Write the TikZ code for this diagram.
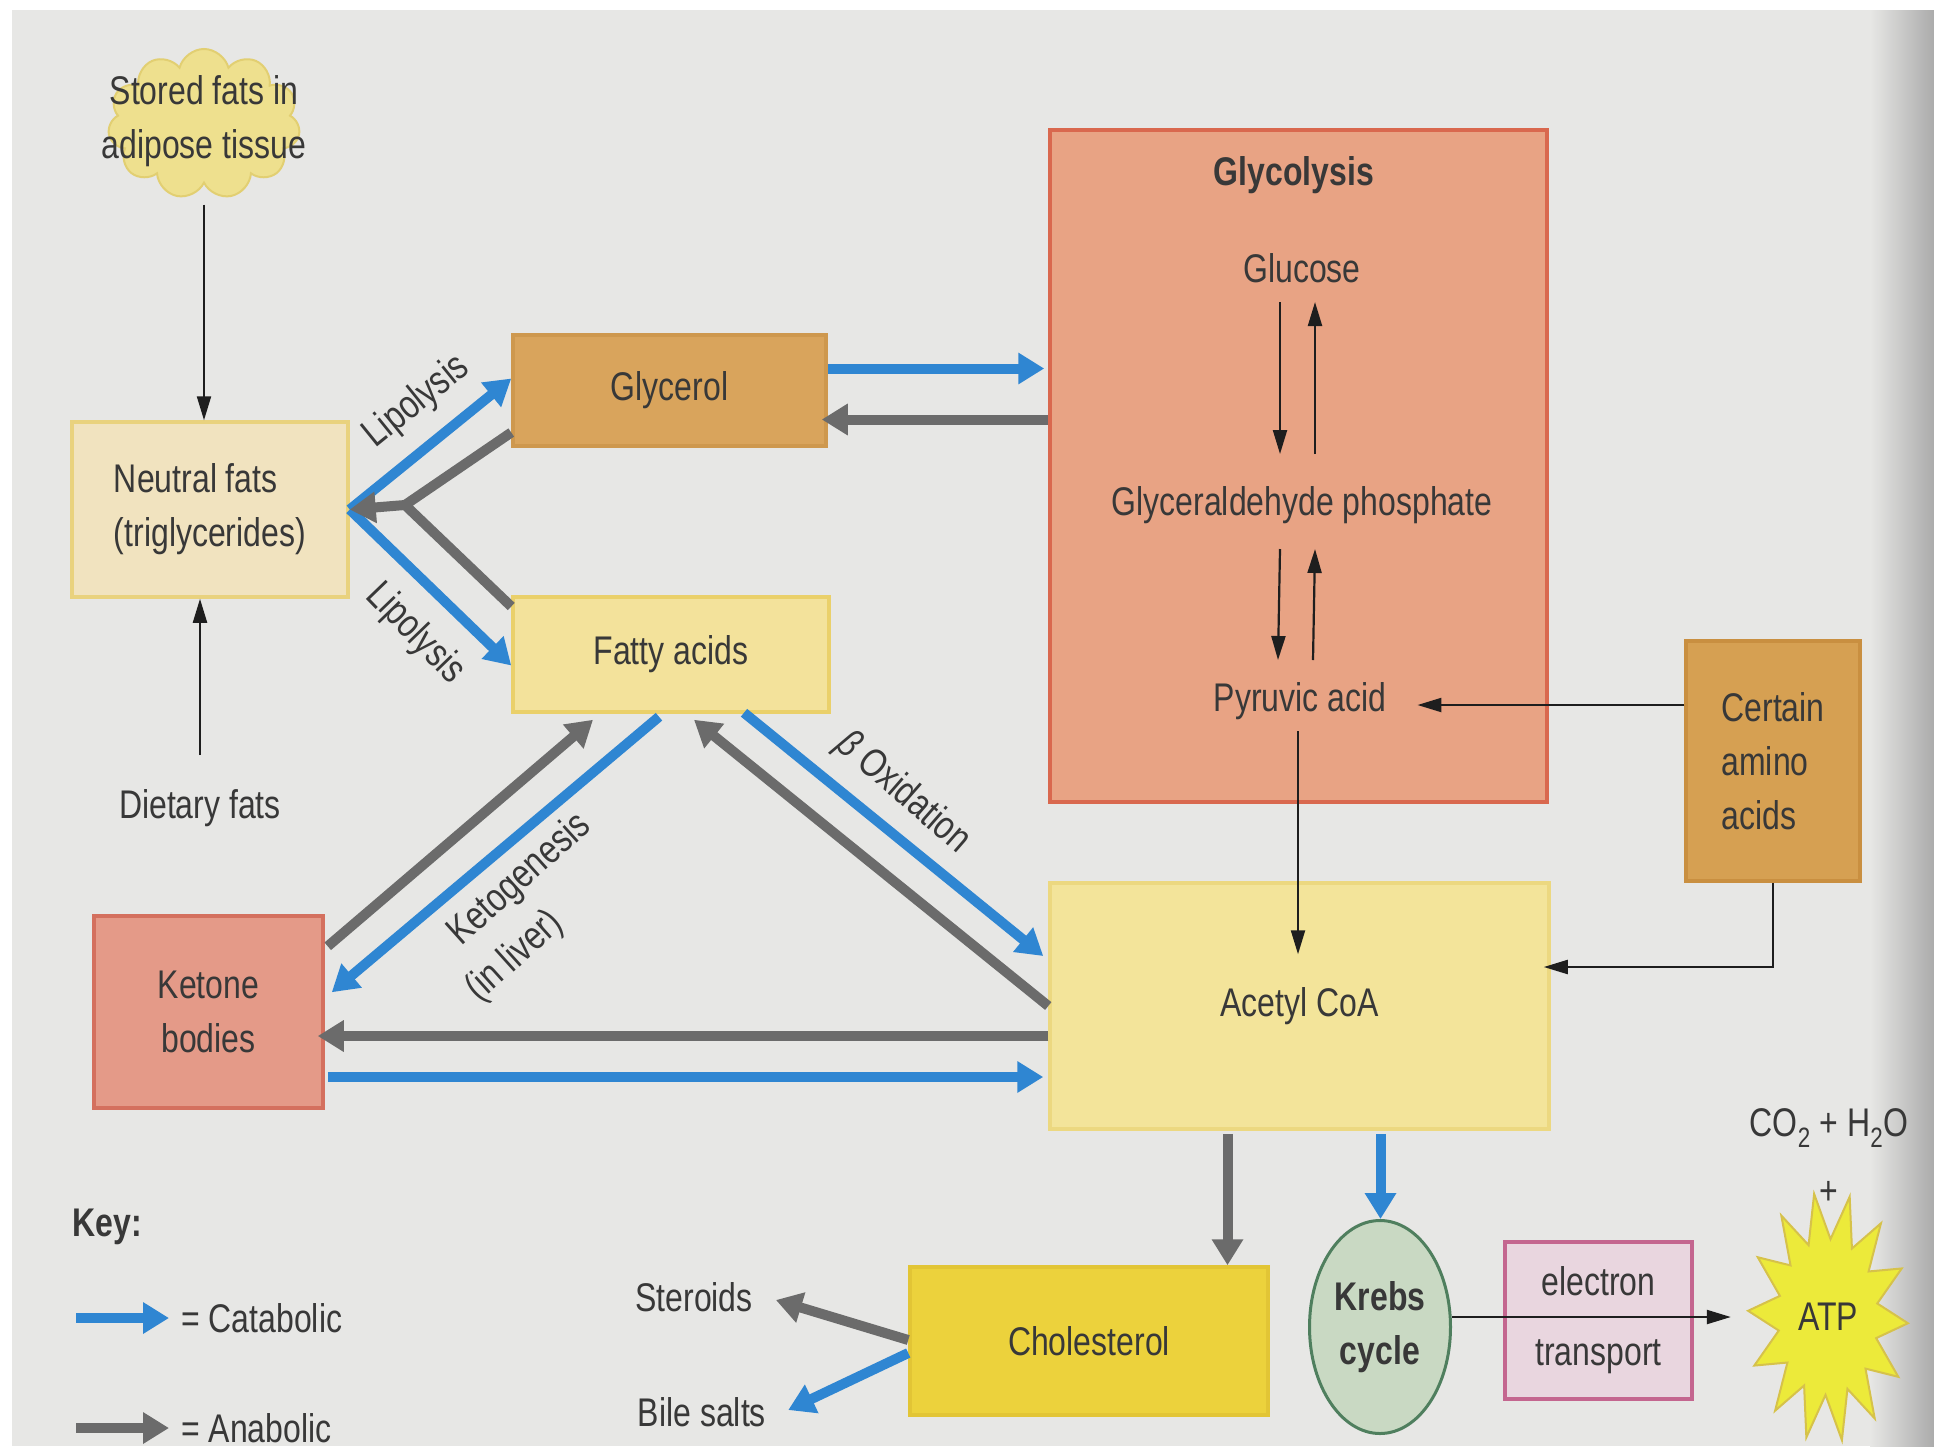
\documentclass[tikz,border=0pt]{standalone}
\usepackage{fontspec}
\setmainfont{Liberation Sans}[FakeStretch=0.8]
\usetikzlibrary{arrows.meta,calc,shapes.geometric,shapes.symbols}
\definecolor{bg}{HTML}{E7E7E5}
\definecolor{edge}{HTML}{ABABAB}
\definecolor{txt}{HTML}{383838}
\definecolor{catblue}{HTML}{2F86D2}
\definecolor{anagray}{HTML}{6B6B6B}
\definecolor{arrowblack}{HTML}{1E1E1E}
\definecolor{cloudfill}{HTML}{EEE08E}
\definecolor{cloudline}{HTML}{E2CF72}
\definecolor{neutralfill}{HTML}{F1E3BF}
\definecolor{neutralline}{HTML}{E9D27E}
\definecolor{glycfill}{HTML}{D9A45C}
\definecolor{glycline}{HTML}{CE984E}
\definecolor{fattyfill}{HTML}{F3E29B}
\definecolor{fattyline}{HTML}{EAD06A}
\definecolor{glycofill}{HTML}{E8A384}
\definecolor{glycoline}{HTML}{D9684E}
\definecolor{aminofill}{HTML}{D6A052}
\definecolor{aminoline}{HTML}{C98F40}
\definecolor{acetylfill}{HTML}{F3E49A}
\definecolor{acetylline}{HTML}{ECD880}
\definecolor{ketonefill}{HTML}{E49A88}
\definecolor{ketoneline}{HTML}{D4705E}
\definecolor{cholfill}{HTML}{ECD23C}
\definecolor{cholline}{HTML}{E2C535}
\definecolor{krebsfill}{HTML}{C9D9C3}
\definecolor{krebsline}{HTML}{4F7F5E}
\definecolor{etfill}{HTML}{E9D6DF}
\definecolor{etline}{HTML}{C4668F}
\definecolor{atpfill}{HTML}{ECEA3A}
\definecolor{atpline}{HTML}{D6C24A}
\begin{document}
\begin{tikzpicture}[x=1pt,y=-1pt,
  every node/.style={font=\fontsize{40}{54}\selectfont, text=txt},
  boldtxt/.style={font=\fontsize{40}{54}\selectfont\bfseries},
  box/.style={draw, line width=3.5pt, inner sep=0pt},
  lbl/.style={inner sep=0pt},
  catab/.style={draw=catblue, line width=10pt, -{Triangle[width=30pt,length=26pt]}},
  anab/.style={draw=anagray, line width=10pt, line join=round, -{Triangle[width=30pt,length=26pt]}},
  anabline/.style={draw=anagray, line width=10pt},
  thinarr/.style={draw=arrowblack, line width=2.2pt, -{Triangle[width=14pt,length=24pt]}}
]
\useasboundingbox (0,0) rectangle (1934,1446);
\fill[white] (0,0) rectangle (1934,1446);
\fill[bg] (12,10) rectangle (1934,1446);
\shade[left color=bg, right color=edge] (1870,10) rectangle (1934,1446);

% nodes
\node[cloud, cloud puffs=11, aspect=1.3, draw=cloudline, fill=cloudfill, line width=2pt,
      minimum width=192pt, minimum height=150pt, inner sep=0pt] (cloudshape) at (204,124) {};
\node[lbl, align=center] (stored) at (204,121) {Stored fats in\\adipose tissue};
\node[box, fill=neutralfill, draw=neutralline, minimum width=276pt, minimum height=175pt, align=left] (neutral) at (210,509.5) {Neutral fats\\(triglycerides)};
\node[box, fill=glycfill, draw=glycline, minimum width=313pt, minimum height=111pt] (glycerol) at (669.5,390.5) {Glycerol};
\node[box, fill=fattyfill, draw=fattyline, minimum width=316pt, minimum height=115pt] (fatty) at (671,654.5) {Fatty acids};
\node[box, fill=glycofill, draw=glycoline, minimum width=497pt, minimum height=672pt] (glyco) at (1298.5,466) {};
\node[lbl, boldtxt] (glytitle) at (1294,175) {Glycolysis};
\node[lbl] (glu) at (1302,268) {Glucose};
\node[lbl] (gap) at (1302,505) {Glyceraldehyde phosphate};
\node[lbl] (pyr) at (1300,701) {Pyruvic acid};
\node[box, fill=aminofill, draw=aminoline, minimum width=174pt, minimum height=240pt, align=left] (amino) at (1773,761) {Certain\\amino\\acids};
\node[box, fill=acetylfill, draw=acetylline, minimum width=499pt, minimum height=246pt] (acetyl) at (1299.5,1006) {Acetyl CoA};
\node[box, fill=ketonefill, draw=ketoneline, minimum width=229pt, minimum height=192pt, align=center] (ketone) at (208.5,1012) {Ketone\\bodies};
\node[box, fill=cholfill, draw=cholline, minimum width=358pt, minimum height=148pt] (chol) at (1089,1341) {Cholesterol};
\node[ellipse, draw=krebsline, fill=krebsfill, line width=3pt, minimum width=141pt, minimum height=213pt, inner sep=0pt, align=center, boldtxt] (krebs) at (1380,1327) {Krebs\\cycle};
\node[box, fill=etfill, draw=etline, minimum width=187pt, minimum height=157pt, align=center] (etrans) at (1598.5,1320.5) {electron\\[16pt]transport};

\coordinate (atpc) at (1828,1317);
\path[draw=atpline, fill=atpfill, line width=2pt] ($(atpc)+(80:80 and 125)$)
  \foreach \k [evaluate=\k as \a using 80+\k*360/28,
               evaluate=\k as \rx using {ifthenelse(mod(\k,2)==0,80,50)},
               evaluate=\k as \ry using {ifthenelse(mod(\k,2)==0,125,78)}] in {1,...,27}
  { -- ($(atpc)+(\a:{\rx} and {\ry})$) } -- cycle;
\node[ellipse, inner sep=0pt, minimum width=160pt, minimum height=250pt] (atp) at (atpc) {ATP};

\node[lbl] (co2) at (1829,1128) {CO\textsubscript{2} + H\textsubscript{2}O};
\node[lbl] (plus) at (1829,1193) {+};
\node[lbl] (dietary) at (200,808) {Dietary fats};
\node[lbl] (steroids) at (694,1297) {Steroids};
\node[lbl] (bile) at (702,1412) {Bile salts};
\node[lbl, boldtxt] (key) at (107,1227) {Key:};
\node[lbl, anchor=west] (cattxt) at (181,1318) {= Catabolic};
\node[lbl, anchor=west] (anatxt) at (181,1428) {= Anabolic};

% rotated labels
\node[lbl, rotate=39] (lip1) at (417,402) {Lipolysis};
\node[lbl, rotate=-46] (lip2) at (415,634) {Lipolysis};
\node[lbl, rotate=42, align=left] (keto) at (538,900) {Ketogenesis\\\hspace*{-24pt}(in liver)};
\node[lbl, rotate=-41] (beta) at (903,793) {\textit{β} Oxidation};

% thin arrows
\draw[thinarr, shorten <=20pt] (cloudshape.south) -- (cloudshape.south |- neutral.north);
\draw[thinarr, shorten <=34pt] (dietary.north) -- (dietary.north |- neutral.south);
\draw[thinarr] ($(glu)+(-22,34)$) -- ($(gap)+(-22,-51)$);
\draw[thinarr] ($(gap)+(13,-51)$) -- ($(glu)+(13,34)$);
\draw[thinarr] ($(gap)+(-22,44)$) -- ($(pyr)+(-22,-41)$);
\draw[thinarr] ($(pyr)+(13,-41)$) -- ($(gap)+(13,44)$);
\draw[thinarr] ($(pyr)+(-2,30)$) -- ($(pyr |- acetyl.north)+(-2,73)$);
\coordinate (am1) at ($(amino.west)+(0,-56)$);
\draw[thinarr, shorten >=31pt] (am1) -- (am1 -| pyr.east);
\draw[thinarr, shorten >=-7pt] (amino.south) |- ($(acetyl.east)+(0,-39)$);

% lipolysis
\draw[catab] (neutral.east) -- ($(glycerol.west)+(0,-12)$);
\draw[catab] (neutral.east) -- ($(fatty.west)+(0,11)$);
\coordinate (j) at (405,505);
\draw[anabline] ($(fatty.west)+(0,-48)$) -- (j);
\draw[anab] ($(glycerol.west)+(0,42)$) -- (j) -- (neutral.east);

% glycerol <-> glycolysis
\coordinate (gc1) at ($(glycerol.east)+(0,-22)$);
\draw[catab, shorten >=4pt] (gc1) -- (gc1 -| glyco.west);
\coordinate (gc2) at ($(glycerol.east)+(0,29)$);
\draw[anab, shorten >=-6pt] (gc2 -| glyco.west) -- (gc2);

% fatty acids / ketone / acetyl
\draw[anab] ($(ketone.north east)+(3,32)$) -- ($(fatty.south)+(-78,6)$);
\draw[catab] ($(fatty.south)+(-12,3)$) -- ($(ketone.north east)+(7,78)$);
\draw[anab] (acetyl.west) -- ($(fatty.south)+(23,6)$);
\draw[catab] ($(fatty.south)+(73,-1)$) -- ($(acetyl.west)+(-5,-50)$);
\coordinate (ak1) at ($(acetyl.west)+(0,30)$);
\draw[anab, shorten >=-7pt] (ak1) -- (ak1 -| ketone.east);
\coordinate (ak2) at ($(ketone.east)+(3,65)$);
\draw[catab, shorten >=5pt] (ak2) -- (ak2 -| acetyl.west);

% acetyl down
\coordinate (ac1) at ($(acetyl.south)+(-72,3)$);
\draw[anab] (ac1) -- (ac1 |- chol.north);
\coordinate (ac2) at ($(acetyl.south)+(81,3)$);
\draw[catab] (ac2) -- (ac2 |- krebs.north);

% cholesterol
\draw[anab] ($(chol.west)+(0,-1)$) -- ($(steroids.east)+(23,3)$);
\draw[catab] ($(chol.west)+(0,12)$) -- ($(bile.east)+(22,-2)$);

% krebs -> ATP
\draw[thinarr, shorten >=17pt] (krebs.east |- atp.west) -- (atp.west);

% key
\coordinate (kc1) at (76,1318);
\coordinate (kc2) at (169,1318);
\draw[catab] (kc1) -- (kc2);
\coordinate (ka1) at (76,1428);
\coordinate (ka2) at (169,1428);
\draw[anab] (ka1) -- (ka2);
\end{tikzpicture}
\end{document}
